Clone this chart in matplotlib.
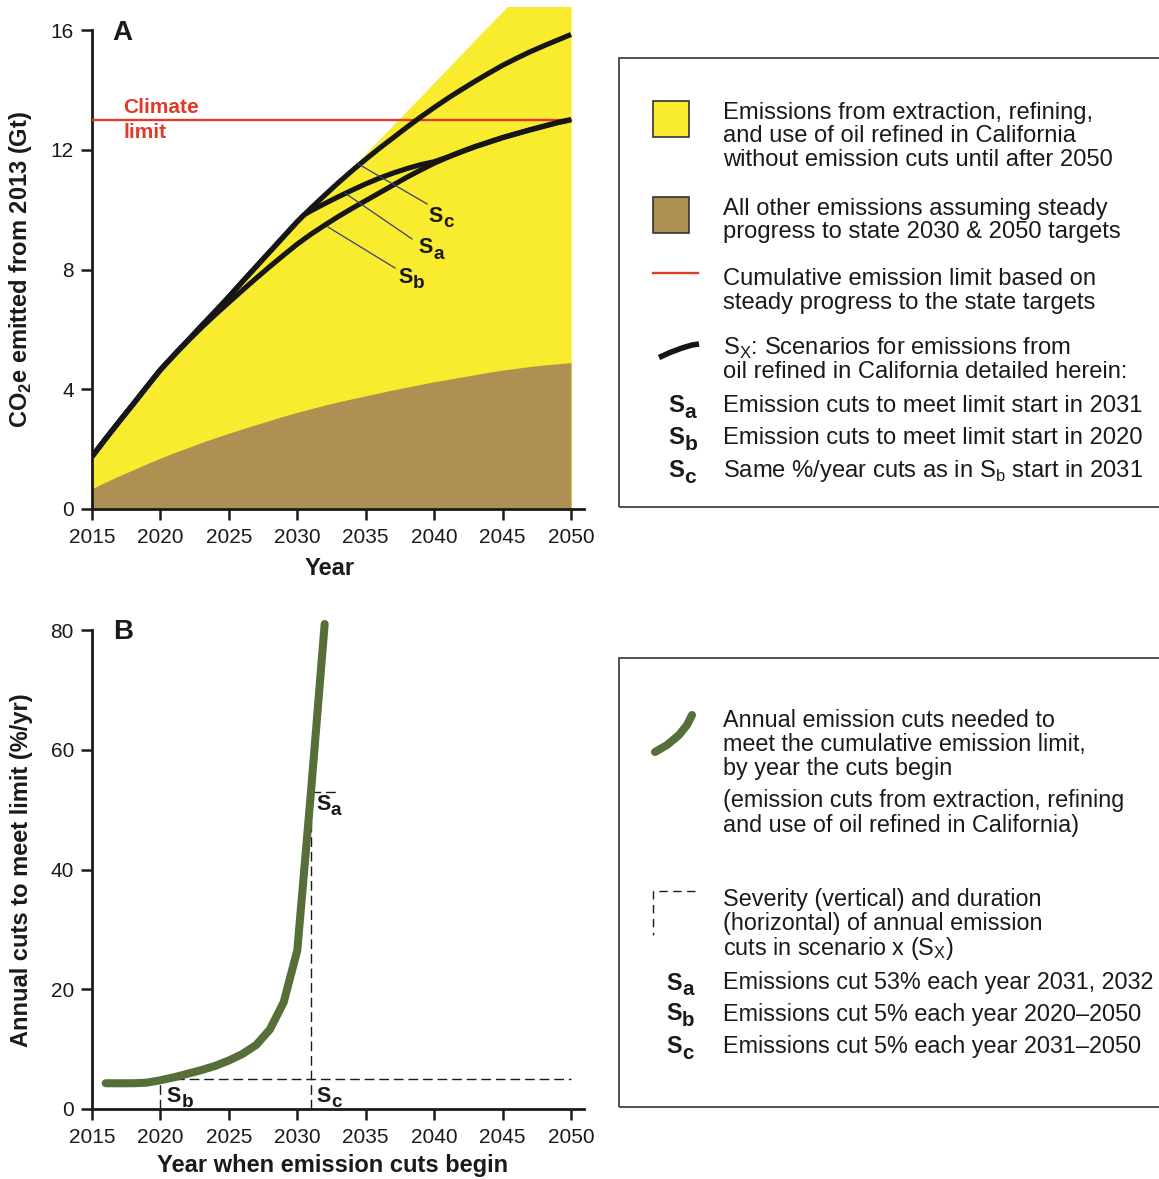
import matplotlib
matplotlib.use('Agg')
import matplotlib.pyplot as plt
from matplotlib.lines import Line2D
from matplotlib.patches import Rectangle
from matplotlib.transforms import offset_copy

plt.rcParams['font.family'] = ['Liberation Sans', 'DejaVu Sans']

# ---------------- Panel A data ----------------
years = list(range(2015, 2051))
# cumulative emissions (Gt CO2e since 2013): oil refined in CA, no cuts until after 2050
baseline = [1.75, 2.35, 2.93, 3.50, 4.08, 4.65, 5.15, 5.63, 6.12, 6.60,
            7.09, 7.60, 8.10, 8.60, 9.10, 9.60, 10.05, 10.50, 10.95, 11.42,
            11.88, 12.35, 12.82, 13.30, 13.77, 14.25, 14.72, 15.20, 15.68, 16.15,
            16.62, 17.10, 17.57, 18.05, 18.52, 19.00]
# all other emissions (steady progress to state targets)
other = [0.68, 0.90, 1.11, 1.31, 1.51, 1.70, 1.88, 2.05, 2.22, 2.38,
         2.53, 2.68, 2.82, 2.96, 3.10, 3.23, 3.35, 3.47, 3.58, 3.68,
         3.78, 3.88, 3.98, 4.07, 4.16, 4.25, 4.33, 4.41, 4.49, 4.57,
         4.64, 4.70, 4.76, 4.81, 4.85, 4.89]
climate_limit = 13.0

sb_years = list(range(2020, 2051))
sb_vals = [4.65, 5.14, 5.61, 6.06, 6.49, 6.90, 7.31, 7.71, 8.10, 8.48,
           8.85, 9.18, 9.48, 9.77, 10.04, 10.30, 10.56, 10.82, 11.08, 11.32,
           11.55, 11.75, 11.93, 12.10, 12.25, 12.40, 12.53, 12.66, 12.78, 12.90,
           13.00]
sa_years = [2030.5] + list(range(2031, 2051))
sa_vals = [9.83, 9.96, 10.20, 10.43, 10.65, 10.86, 11.05, 11.22, 11.37, 11.50,
           11.60, 11.76, 11.94, 12.11, 12.26, 12.41, 12.54, 12.67, 12.79, 12.91,
           13.01]
sc_years = list(range(2031, 2051))
sc_vals = [10.05, 10.48, 10.90, 11.30, 11.68, 12.05, 12.40, 12.75, 13.09, 13.41,
           13.72, 14.01, 14.29, 14.56, 14.82, 15.05, 15.27, 15.47, 15.66, 15.85]

xticks = [2015, 2020, 2025, 2030, 2035, 2040, 2045, 2050]
yticksA = [0, 4, 8, 12, 16]

# ---------------- Panel B data ----------------
start_years = list(range(2016, 2033))
annual_cuts = [4.3, 4.3, 4.3, 4.4, 4.8, 5.3, 5.9, 6.5, 7.2, 8.1,
               9.2, 10.7, 13.3, 17.8, 26.5, 53.0, 81.0]
yticksB = [0, 20, 40, 60, 80]
sb_start, sb_rate, sb_end = 2020, 5.0, 2050
sc_start, sc_rate, sc_end = 2031, 5.0, 2050
sa_start, sa_rate, sa_end = 2031, 53.0, 2033

# ---------------- styling ----------------
YELLOW = '#f9eb2e'
BROWN = '#ae9152'
RED = '#e03a2b'
BLACK = '#161616'
GREEN = '#566e38'
LEADER = '#3c3c6e'
TXT = '#1a1a1a'

W, H = 1159, 1179
fig = plt.figure(figsize=(W / 100, H / 100), dpi=100)


def fx(px):
    return px / W


def fy(py):
    return 1 - py / H


def s_label(x, y, letter, size, transform, weight='bold', zorder=6):
    """Draw 'S' with a large, lowered subscript letter."""
    em = size * 100 / 72.0
    fig.text(x, y, 'S', fontsize=size, fontweight=weight, color=TXT,
             ha='left', va='baseline', transform=transform, zorder=zorder)
    tr = offset_copy(transform, fig=fig, x=0.69 * em, y=-0.24 * em, units='dots')
    fig.text(x, y, letter, fontsize=size * 0.88, fontweight=weight, color=TXT,
             ha='left', va='baseline', transform=tr, zorder=zorder)


def style_axes(ax, yticks, ytop):
    for s in ['top', 'right']:
        ax.spines[s].set_visible(False)
    for s in ['left', 'bottom']:
        ax.spines[s].set_linewidth(2.0)
        ax.spines[s].set_color(TXT)
    ax.spines['left'].set_bounds(0, ytop)
    ax.set_xticks(xticks)
    ax.set_yticks(yticks)
    ax.tick_params(direction='out', length=8, width=1.8, color=TXT,
                   labelsize=15, labelcolor=TXT)
    ax.tick_params(axis='x', pad=5.5)
    ax.tick_params(axis='y', pad=5)


# ---------------- Panel A ----------------
axA = fig.add_axes([fx(92), fy(509), (583.5 - 92) / W, (509 - 7) / H])
axA.set_xlim(2015, 2050.91)
axA.set_ylim(0, 16 * (509 - 7) / (509 - 30))
style_axes(axA, yticksA, 16)

axA.fill_between(years, 0, baseline, color=YELLOW, lw=0, zorder=1)
axA.fill_between(years, 0, other, color=BROWN, lw=0, zorder=2)
axA.plot([years[0], years[-1]], [climate_limit, climate_limit], color=RED, lw=1.7, zorder=3)

i2020 = years.index(2020)
i2030 = years.index(2030)
i2031 = years.index(2031)
line_kw = dict(color=BLACK, lw=3.7, solid_capstyle='butt', solid_joinstyle='round', zorder=4)
axA.plot(years[:i2020] + sb_years, baseline[:i2020] + sb_vals, **line_kw)
axA.plot(years[:i2030 + 1] + sa_years, baseline[:i2030 + 1] + sa_vals, **line_kw)
axA.plot(years[:i2031] + sc_years, baseline[:i2031] + sc_vals, **line_kw)

# leader lines and scenario labels
leaders = [((2034.36, 11.55), (2039.48, 10.19), (2039.57, 9.60), 'c'),
           ((2033.49, 10.55), (2038.38, 9.02), (2038.84, 8.54), 'a'),
           ((2032.24, 9.42), (2037.14, 8.05), (2037.38, 7.54), 'b')]
for (x0, y0), (x1, y1), (tx, ty), sub in leaders:
    axA.plot([x0, x1], [y0, y1], color=LEADER, lw=0.9, zorder=5)
    s_label(tx, ty, sub, 15.5, axA.transData)

axA.text(2017.27, 13.23, 'Climate', color=RED, fontsize=15, fontweight='bold',
         ha='left', va='baseline')
axA.text(2017.27, 12.39, 'limit', color=RED, fontsize=15, fontweight='bold',
         ha='left', va='baseline')

fig.text(fx(112), fy(39.5), 'A', fontsize=20, fontweight='bold', color=TXT,
         ha='left', va='baseline')
fig.text(fx(21), fy(270), r'CO$_\mathregular{2}$e emitted from 2013 (Gt)', rotation=90,
         fontsize=17, fontweight='bold', color=TXT, ha='center', va='center')
fig.text(fx(329.5), fy(575), 'Year', fontsize=17, fontweight='bold', color=TXT,
         ha='center', va='baseline')

# ---------------- Panel B ----------------
axB = fig.add_axes([fx(92), fy(1109), (583.5 - 92) / W, (1109 - 606) / H])
axB.set_xlim(2015, 2050.91)
axB.set_ylim(0, (1109 - 606) / ((1109 - 630) / 80))
style_axes(axB, yticksB, 80)

dash_kw = dict(color=TXT, lw=1.0, linestyle=(0, (7, 3.5)), zorder=2)
axB.plot([sb_start, sb_start], [0, sb_rate], **dash_kw)
axB.plot([sb_start, sb_end], [sb_rate, sb_rate], **dash_kw)
axB.plot([sc_start, sc_start], [0, sa_rate], **dash_kw)
axB.plot([sa_start, sa_end], [sa_rate, sa_rate], **dash_kw)
axB.plot(start_years, annual_cuts, color=GREEN, lw=5.8, solid_capstyle='round',
         solid_joinstyle='round', zorder=3)

s_label(sb_start + 0.46, 1.22, 'b', 15.5, axB.transData)
s_label(sc_start + 0.42, 1.22, 'c', 15.5, axB.transData)
s_label(sa_start + 0.37, 49.9, 'a', 15.5, axB.transData)

fig.text(fx(113), fy(639), 'B', fontsize=20, fontweight='bold', color=TXT,
         ha='left', va='baseline')
fig.text(fx(22), fy(870), 'Annual cuts to meet limit (%/yr)', rotation=90,
         fontsize=17, fontweight='bold', color=TXT, ha='center', va='center')
fig.text(fx(333), fy(1172), 'Year when emission cuts begin', fontsize=17,
         fontweight='bold', color=TXT, ha='center', va='baseline')

# ---------------- Legend A ----------------
LFS = 17.1
fig.patches.append(Rectangle((fx(619), fy(507)), (W + 5 - 619) / W, (507 - 58) / H,
                             transform=fig.transFigure, fill=False, ec='#333333', lw=1.2))
fig.patches.append(Rectangle((fx(653), fy(137)), 36 / W, 36 / H, transform=fig.transFigure,
                             fc=YELLOW, ec='#333333', lw=1.2))
fig.patches.append(Rectangle((fx(653), fy(233)), 36 / W, 36 / H, transform=fig.transFigure,
                             fc=BROWN, ec='#333333', lw=1.2))
fig.lines.append(Line2D([fx(653), fx(698)], [fy(273), fy(273)], transform=fig.transFigure,
                        color=RED, lw=1.7))
fig.lines.append(Line2D([fx(659), fx(670), fx(682), fx(692), fx(699)],
                        [fy(357.5), fy(352.5), fy(348), fy(345), fy(344)],
                        transform=fig.transFigure, color=BLACK, lw=4.0,
                        solid_capstyle='butt', solid_joinstyle='round'))

legA = [(118.5, 'Emissions from extraction, refining,'),
        (142.5, 'and use of oil refined in California'),
        (166.5, 'without emission cuts until after 2050'),
        (214.5, 'All other emissions assuming steady'),
        (238, 'progress to state 2030 & 2050 targets'),
        (285, 'Cumulative emission limit based on'),
        (308.5, 'steady progress to the state targets'),
        (354.5, r'S$_\mathregular{X}$: Scenarios for emissions from'),
        (378.5, 'oil refined in California detailed herein:')]
for yb, t in legA:
    fig.text(fx(723), fy(yb), t, fontsize=LFS, color=TXT, ha='left', va='baseline')
legA_s = [(412.5, 'a', 'Emission cuts to meet limit start in 2031'),
          (444, 'b', 'Emission cuts to meet limit start in 2020'),
          (477, 'c', r'Same %/year cuts as in S$_\mathregular{b}$ start in 2031')]
for yb, s, t in legA_s:
    s_label(fx(668), fy(yb), s, LFS, fig.transFigure)
    fig.text(fx(723), fy(yb), t, fontsize=LFS, color=TXT, ha='left', va='baseline')

# ---------------- Legend B ----------------
LFSB = 16.8
fig.patches.append(Rectangle((fx(619), fy(1107)), (W + 5 - 619) / W, (1107 - 658) / H,
                             transform=fig.transFigure, fill=False, ec='#333333', lw=1.2))
fig.lines.append(Line2D([fx(655), fx(667), fx(679), fx(687), fx(692)],
                        [fy(752), fy(745), fy(735), fy(725), fy(715)],
                        transform=fig.transFigure, color=GREEN, lw=5.8,
                        solid_capstyle='round', solid_joinstyle='round'))
fig.lines.append(Line2D([fx(695), fx(652.5), fx(652.5)], [fy(891), fy(891), fy(935)],
                        transform=fig.transFigure, color=TXT, lw=1.0,
                        linestyle=(0, (6, 4))))
legB = [(727, 'Annual emission cuts needed to'),
        (751, 'meet the cumulative emission limit,'),
        (775.5, 'by year the cuts begin'),
        (807.5, '(emission cuts from extraction, refining'),
        (832, 'and use of oil refined in California)'),
        (906, 'Severity (vertical) and duration'),
        (930, '(horizontal) of annual emission'),
        (954.5, r'cuts in scenario x (S$_\mathregular{X}$)')]
for yb, t in legB:
    fig.text(fx(723), fy(yb), t, fontsize=LFSB, color=TXT, ha='left', va='baseline')
legB_s = [(989.5, 'a', 'Emissions cut 53% each year 2031, 2032'),
          (1020.5, 'b', 'Emissions cut 5% each year 2020\u20132050'),
          (1053, 'c', 'Emissions cut 5% each year 2031\u20132050')]
for yb, s, t in legB_s:
    s_label(fx(666), fy(yb), s, LFSB, fig.transFigure)
    fig.text(fx(723), fy(yb), t, fontsize=LFSB, color=TXT, ha='left', va='baseline')

fig.savefig('out.png', dpi=100)
